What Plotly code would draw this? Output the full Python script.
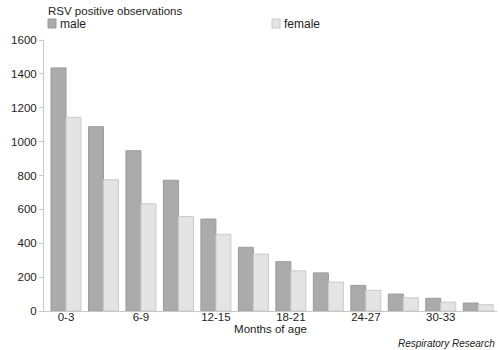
import plotly.graph_objects as go

categories = ["0-3", "3-6", "6-9", "9-12", "12-15", "15-18", "18-21", "21-24",
              "24-27", "27-30", "30-33", "33-36"]
male = [1435, 1088, 946, 772, 543, 376, 291, 225, 151, 100, 75, 47]
female = [1144, 775, 633, 558, 453, 336, 237, 171, 122, 78, 52, 37]
tick_labels = ["0-3", "6-9", "12-15", "18-21", "24-27", "30-33"]
series_names = ["male", "female"]
y_ticks = [0, 200, 400, 600, 800, 1000, 1200, 1400, 1600]

male_fill, male_line = "#ababab", "#9a9a9a"
female_fill, female_line = "#e4e4e4", "#cacaca"
font = "Liberation Sans, Arial, sans-serif"

fig = go.Figure()
fig.add_trace(go.Bar(x=categories, y=male, name=series_names[0],
                     marker=dict(color=male_fill, line=dict(color=male_line, width=1))))
fig.add_trace(go.Bar(x=categories, y=female, name=series_names[1],
                     marker=dict(color=female_fill, line=dict(color=female_line, width=1))))

W, H = 500, 350
L, R, T, B = 44, 3, 40, 39
pw, ph = W - L - R, H - T - B

def px(x):
    return (x - L) / pw

def py(y):
    return (H - B - y) / ph

shapes = []
annotations = []
# legend swatches + labels
for name, sx, fill, line in [(series_names[0], 48, male_fill, male_line),
                             (series_names[1], 272, female_fill, female_line)]:
    shapes.append(dict(type="rect", xref="paper", yref="paper",
                       x0=px(sx), x1=px(sx + 8), y0=py(28), y1=py(19),
                       fillcolor=fill, line=dict(color=line, width=1)))
    annotations.append(dict(text=name, xref="paper", yref="paper",
                            x=px(sx + 10), y=py(23.5), xanchor="left", yanchor="middle",
                            showarrow=False, font=dict(size=12, color="#222", family=font)))

annotations.append(dict(text="RSV positive observations", xref="paper", yref="paper",
                        x=px(46), y=py(11), xanchor="left", yanchor="middle",
                        showarrow=False, font=dict(size=11.5, color="#222", family=font)))
annotations.append(dict(text="<i>Respiratory Research</i>", xref="paper", yref="paper",
                        x=px(497), y=py(343), xanchor="right", yanchor="middle",
                        showarrow=False, font=dict(size=10, color="#222", family=font)))

fig.update_layout(
    width=W, height=H,
    margin=dict(l=L, r=R, t=T, b=B, pad=0),
    paper_bgcolor="white", plot_bgcolor="white",
    barmode="group", bargap=0.2, bargroupgap=0,
    showlegend=False,
    font=dict(family=font, size=11, color="#222"),
    shapes=shapes, annotations=annotations,
    xaxis=dict(type="category", tickmode="array", tickvals=tick_labels, ticktext=tick_labels,
               range=[-0.587, 11.5],
               showgrid=False, showline=True, linecolor="#c8c8c8", linewidth=1,
               ticks="", tickfont=dict(size=11.5), ticklabelstandoff=-5,
               title=dict(text="Months of age", standoff=0, font=dict(size=11.5))),
    yaxis=dict(range=[0, 1600], tickvals=y_ticks, showgrid=False, zeroline=False,
               showline=True, linecolor="#c8c8c8", linewidth=1,
               ticks="outside", ticklen=4, tickcolor="#c8c8c8", tickfont=dict(size=11.5)),
)

fig.write_html("out.html", config={"displayModeBar": False},
               post_script="document.body.style.margin='0px';document.body.style.overflow='hidden';")
